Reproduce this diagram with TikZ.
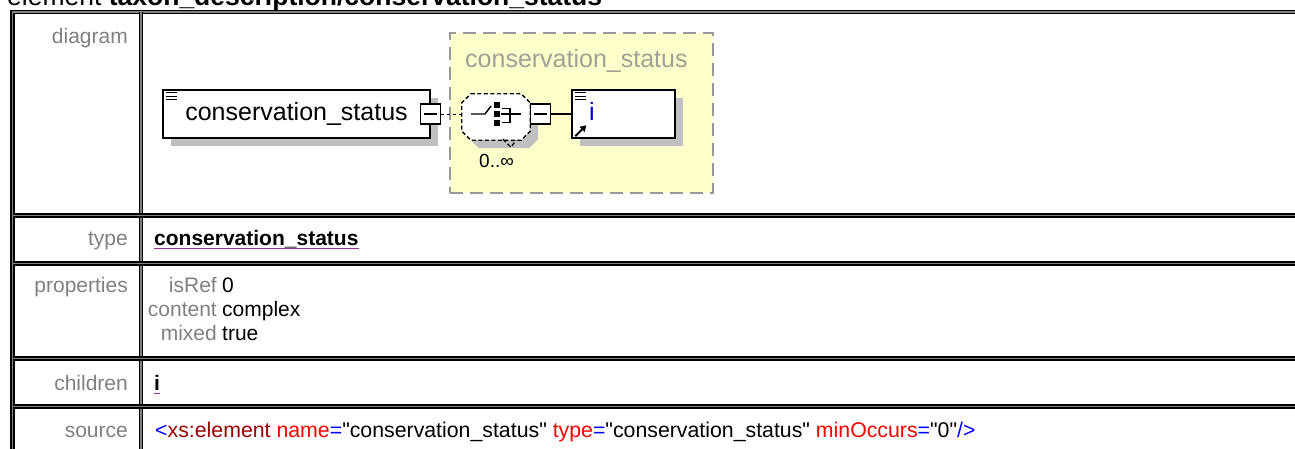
\documentclass[tikz,border=0pt]{standalone}
\usepackage{fontspec}
\setmainfont{Liberation Sans}[Ligatures=TeXOff]
\usetikzlibrary{calc,arrows.meta,shadows}

\definecolor{labelgray}{RGB}{128,128,128}
\definecolor{shadowgray}{RGB}{192,192,192}
\definecolor{groupfill}{RGB}{255,255,204}
\definecolor{groupline}{RGB}{153,153,153}
\definecolor{grouptext}{RGB}{160,160,150}
\definecolor{linkpurple}{RGB}{153,51,153}
\definecolor{attrred}{RGB}{255,0,0}
\definecolor{tagred}{RGB}{153,0,0}
\definecolor{markblue}{RGB}{0,0,255}
\definecolor{refblue}{RGB}{0,0,200}
\newcommand\qq{\char34\relax}

\tikzset{
    rule/.style={draw=black, line width=1.6pt, double=gray, double distance=1.2pt},
    rowlabel/.style={anchor=base east, inner sep=0pt, text=labelgray, font=\fontsize{21}{24}\selectfont},
    rowvalue/.style={anchor=base west, inner sep=0pt, font=\fontsize{21}{24}\selectfont},
    boxshadow/.style={drop shadow={shadow xshift=8pt, shadow yshift=-8pt, fill=shadowgray, opacity=1}},
    elembox/.style={draw=black, line width=1.5pt, fill=white, inner sep=0pt, minimum height=48pt, font=\fontsize{25}{28}\selectfont, boxshadow},
    btn/.style={draw=black, line width=1.2pt, fill=white, minimum size=20pt, inner sep=0pt},
    groupbox/.style={draw=groupline, fill=groupfill, line width=1.8pt, dash pattern=on 13pt off 7pt, minimum width=263pt, minimum height=160pt, inner sep=0pt},
}

\begin{document}
\begin{tikzpicture}[x=1pt, y=-1pt]
    \useasboundingbox (0,0) rectangle (1295,448);
    \node[anchor=base west, inner sep=0pt, font=\fontsize{26.5}{30}\selectfont] (title) at (7,5) {element \textbf{taxon\_description/conservation\_status}};

    % table frame
    \draw[rule] (1310,12) -- (12.5,12) -- (12.5,460);
    \draw[rule] (141,12) -- (141,460);
    \foreach \y in {215.5,263.5,358.5,406.5}
        \draw[rule] (12.5,\y) -- (1310,\y);

    \node[rowlabel] (ldiagram) at (128,43) {diagram};
    \node[rowlabel] (ltype) at (128,245) {type};
    \node[rowlabel] (lprops) at (128,292) {properties};
    \node[rowlabel] (lchildren) at (128,390) {children};
    \node[rowlabel] (lsource) at (128,437) {source};

    % diagram
    \node[groupbox] (group) at (581.5,113) {};
    \node[anchor=base west, inner sep=0pt, text=grouptext, font=\fontsize{25}{28}\selectfont] (grouptitle) at (465,67) {conservation\_status};

    \node[elembox, minimum width=267pt] (elem) at (296.5,114) {conservation\_status};
    \node[elembox, minimum width=103pt] (child) at (623.5,114) {};
    \node[anchor=base west, inner sep=0pt, text=refblue, font=\fontsize{25}{28}\selectfont] (childname) at (589,120) {i};
    \foreach \n in {elem,child}
        \foreach \dy in {3.5,7,10.5}
            \draw[line width=1.4pt] ($(\n.north west)+(4,\dy)$) -- ++(11,0);
    \draw[line width=2pt, -{Triangle[length=6pt,width=7pt]}] ($(child.south west)+(4,-2.5)$) -- ++(11,-11);

    \node[minimum width=68pt, minimum height=46pt, inner sep=0pt] (choice) at (496,117) {};
    \path[boxshadow, fill=white, draw=black, line width=1.3pt, dash pattern=on 4pt off 2.5pt]
        ($(choice.north west)+(9,0)$) -- ($(choice.north east)+(-9,0)$) -- ($(choice.north east)+(0,9)$)
        -- ($(choice.south east)+(0,-9)$) -- ($(choice.south east)+(-9,0)$) -- ($(choice.south west)+(9,0)$)
        -- ($(choice.south west)+(0,-9)$) -- ($(choice.north west)+(0,9)$) -- cycle;
    \draw[line width=1.3pt, dash pattern=on 4pt off 2.5pt] ($(choice.south)+(7,-1)$) -- ++(8,8) -- ++(5,-7);
    \draw[line width=1.4pt] (471,114) -- (485,114) -- (491,106);
    \foreach \sy in {105,114,123}
        \fill (493.5,\sy-3) rectangle ++(6,6);
    \draw[line width=1.4pt] (502,108.5) -- (510,108.5) -- (510,122.5) -- (502,122.5);
    \draw[line width=1.4pt] (501,114) -- (521,114);
    \node[anchor=base west, inner sep=0pt, font=\fontsize{19}{22}\selectfont] (card) at (479,167) {0..∞};

    \node[btn] (elemBtn) at (elem.east) {};
    \draw[line width=1.2pt] ($(elemBtn.west)+(4,0)$) -- ($(elemBtn.east)+(-4,0)$);
    \node[btn, anchor=west] (choiceBtn) at (choice.east |- elem.east) {};
    \draw[line width=1.2pt] ($(choiceBtn.west)+(4,0)$) -- ($(choiceBtn.east)+(-4,0)$);
    \draw[line width=1pt, dash pattern=on 3pt off 3pt] (elemBtn.east) -- (elemBtn.east -| choice.west);
    \draw[line width=1.2pt] (choiceBtn.east) -- (child.west);

    % rows
    \node[rowvalue, font=\fontsize{21}{24}\selectfont\bfseries] (typeval) at (154,245) {conservation\_status};
    \draw[linkpurple, line width=1pt] ($(typeval.base west)+(0,3.5)$) -- ($(typeval.base east)+(0,3.5)$);

    \node[rowlabel, anchor=base east] (kref) at (217,292) {isRef};
    \node[rowlabel, anchor=base east] (kcontent) at (217,316) {content};
    \node[rowlabel, anchor=base east] (kmixed) at (217,340) {mixed};
    \node[rowvalue] (vref) at (222,292) {0};
    \node[rowvalue] (vcontent) at (222,316) {complex};
    \node[rowvalue] (vmixed) at (222,340) {true};

    \node[rowvalue, font=\fontsize{21}{24}\selectfont\bfseries] (childval) at (154,390) {i};
    \draw[linkpurple, line width=1pt] ($(childval.base west)+(0,3)$) -- ($(childval.base east)+(0,3)$);

    \node[rowvalue, font=\fontsize{21.3}{24}\selectfont] (srcval) at (155,437) {\textcolor{markblue}{<}\textcolor{tagred}{xs:element}\ \textcolor{attrred}{name}\textcolor{markblue}{=}\qq conservation\_status\qq\ \textcolor{attrred}{type}\textcolor{markblue}{=}\qq conservation\_status\qq\ \textcolor{attrred}{minOccurs}\textcolor{markblue}{=}\qq 0\qq\textcolor{markblue}{/>}};
\end{tikzpicture}
\end{document}
